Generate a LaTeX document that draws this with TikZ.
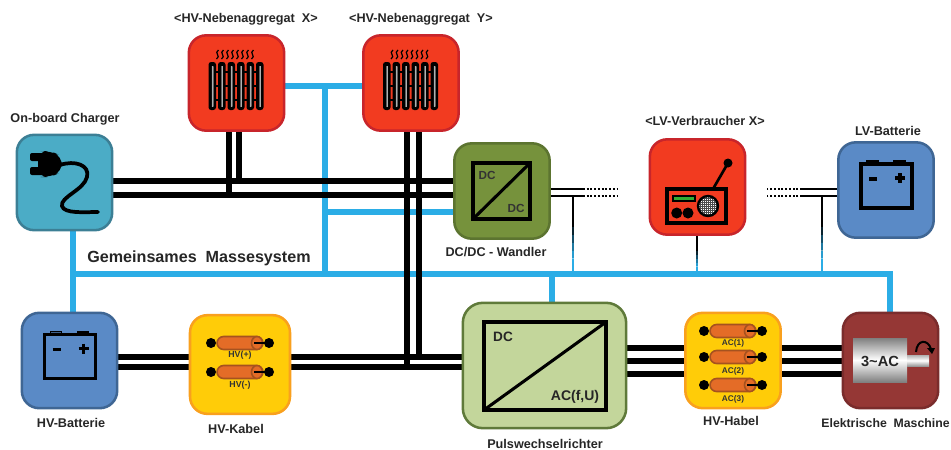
\documentclass[tikz,border=0pt]{standalone}
\usepackage{fontspec}
\setmainfont{Liberation Sans}
\usepackage{xcolor}
\usepackage{tikz}
\usetikzlibrary{positioning, calc, backgrounds}
\definecolor{skyline}{HTML}{2BADE6}
\definecolor{heatred}{HTML}{F23B20}
\definecolor{heatedge}{HTML}{C8252B}
\definecolor{batblue}{HTML}{5A8AC6}
\definecolor{batedge}{HTML}{3F6694}
\definecolor{chargeteal}{HTML}{4BACC6}
\definecolor{chargeedge}{HTML}{3C7F95}
\definecolor{dcgreen}{HTML}{76923C}
\definecolor{dcedge}{HTML}{5C7430}
\definecolor{pwrgreen}{HTML}{C3D69B}
\definecolor{pwredge}{HTML}{5F7A3A}
\definecolor{cableyellow}{HTML}{FFCC08}
\definecolor{cableedge}{HTML}{F9A01E}
\definecolor{motorred}{HTML}{953735}
\definecolor{motoredge}{HTML}{7A2C2C}
\definecolor{coreorange}{HTML}{E46C27}
\definecolor{coreedge}{HTML}{A5521F}
\tikzstyle{unit} = [rectangle, rounded corners=13pt, minimum width=71.5pt, minimum height=71.5pt, line width=1.9pt, inner sep=0pt]
\tikzstyle{caption} = [font=\bfseries\fontsize{9.5}{11}\selectfont, text=black!85, inner sep=0pt]
\tikzstyle{cabletext} = [font=\bfseries\fontsize{6.6}{8}\selectfont, text=black!80, inner sep=0pt]
\tikzstyle{hvwire} = [line width=3.9pt, black]
\tikzstyle{gndwire} = [line width=3.9pt, skyline, line cap=rect]
\tikzstyle{lvwire} = [line width=1.3pt, black]
\tikzstyle{lvdots} = [line width=1pt, black, dash pattern=on 1.4pt off 1.4pt]
\tikzstyle{tapwire} = [line width=1.2pt]
\tikzstyle{iconline} = [line width=2.3pt, black]
\tikzset{
  heater/.pic={
    \foreach \i in {0,...,7} {
      \draw[black, line width=0.9pt] (-18+\i*5,-33) .. controls (-23+\i*5,-30) and (-15+\i*5,-27) .. (-20+\i*5,-24);
    }
    \foreach \ypos in {-11,3,17} { \draw[black, line width=2.1pt] (-26,\ypos) -- (25,\ypos); }
    \foreach \i in {0,...,5} {
      \fill[black, rounded corners=2pt] (-28+\i*9.5,-21) rectangle ++(7.5,48);
      \shade[left color=black, right color=black, middle color=black!15] (-25.6+\i*9.5,-17) rectangle ++(2.7,40);
    }
  },
  battery/.pic={
    \draw[black, line width=1.2pt, fill=batblue!70!black] (-19,-29) rectangle ++(11,3);
    \draw[black, line width=1.2pt, fill=black] (8,-29) rectangle ++(11,3);
    \draw[black, line width=2.5pt] (-25,-26) rectangle (26,18);
    \draw[black, line width=2.4pt] (-17,-11) -- (-9,-11);
    \draw[black, line width=2.4pt] (9,-12) -- (19,-12) (14,-17) -- (14,-7);
  },
  cable/.pic={
    \draw[coreedge, line width=1.2pt, fill=coreorange, rounded corners=5pt] (-23,-6.5) rectangle (23,6.5);
    \draw[coreedge, line width=1.2pt, fill=coreorange] (17,0) ellipse (5.5 and 6.5);
    \draw[black, line width=1.1pt] (14,0) -- (29,0);
    \fill[black] (-29,0) circle (5) (29,0) circle (5);
  }
}
\begin{document}
\begin{tikzpicture}[x=0.75pt, y=-0.75pt]
\useasboundingbox (0,0) rectangle (951,450);

% Units
\node (charger) [unit, fill=chargeteal, draw=chargeedge] at (64.5,182.5) {};
\node (heatX) [unit, fill=heatred, draw=heatedge] at (236.5,83) {};
\node (heatY) [unit, fill=heatred, draw=heatedge] at (411,83) {};
\node (dcdc) [unit, fill=dcgreen, draw=dcedge] at (502,191) {};
\node (radio) [unit, fill=heatred, draw=heatedge] at (697.5,187) {};
\node (lvbat) [unit, fill=batblue, draw=batedge] at (886,190) {};
\node (hvbat) [unit, fill=batblue, draw=batedge] at (69.5,360.5) {};
\node (hvcable) [unit, fill=cableyellow, draw=cableedge, minimum width=75pt, minimum height=74pt] at (240,364.5) {};
\node (pwr) [unit, fill=pwrgreen, draw=pwredge, minimum width=122.5pt, minimum height=94pt, rounded corners=15pt] at (544.5,365.5) {};
\node (accable) [unit, fill=cableyellow, draw=cableedge] at (733,360.5) {};
\node (motor) [unit, fill=motorred, draw=motoredge] at (890.5,360.5) {};

% Captions
\node (capX) [caption] at (246,19) {<HV-Nebenaggregat\ \ X>};
\node (capY) [caption] at (421,19) {<HV-Nebenaggregat\ \ Y>};
\node (capcharger) [caption] at (65,119) {On-board Charger};
\node (capdcdc) [caption] at (496,252) {DC/DC - Wandler};
\node (capradio) [caption] at (705,121) {<LV-Verbraucher X>};
\node (caplvbat) [caption] at (888,131) {LV-Batterie};
\node (capground) [caption, font=\bfseries\fontsize{12.1}{14}\selectfont] at (199,258) {Gemeinsames\ \ Massesystem};
\node (caphvbat) [caption] at (71,423) {HV-Batterie};
\node (caphvcable) [caption] at (236,429) {HV-Kabel};
\node (cappwr) [caption] at (545,444) {Pulswechselrichter};
\node (capaccable) [caption] at (731,421) {HV-Habel};
\node (capmotor) [caption, font=\bfseries\fontsize{9.2}{11}\selectfont] at (885.5,423) {Elektrische\ \ Maschine};

% Icons
\pic at (heatX) {heater};
\pic at (heatY) {heater};
\pic at (hvbat) {battery};
\pic at (lvbat) {battery};
\pic at (240,343) {cable};
\pic at (240,372) {cable};
\foreach \ypos in {331,357,385} { \pic at (733,\ypos) {cable}; }
\node (hvplus) [cabletext] at (240,355) {HV(+)};
\node (hvminus) [cabletext] at (240,385) {HV(-)};
\node (acone) [cabletext, font=\bfseries\fontsize{6.2}{8}\selectfont] at (733,343) {AC(1)};
\node (actwo) [cabletext, font=\bfseries\fontsize{6.2}{8}\selectfont] at (733,371) {AC(2)};
\node (acthree) [cabletext, font=\bfseries\fontsize{6.2}{8}\selectfont] at (733,399) {AC(3)};

% Plug
\fill[black, rounded corners=1.5pt] (30,153) rectangle (44,161) (30,167) rectangle (44,175);
\fill[black, rounded corners=7pt] (38,151) -- (50,151) -- (62,156) -- (62,172) -- (50,177) -- (38,177) -- cycle;
\draw[black, line width=2.8pt, line cap=round] (60,165) .. controls (75,160) and (90,165) .. (87,177) .. controls (84,190) and (60,197) .. (62,206) .. controls (64,214) and (85,212) .. (98,212);

% DC/DC icon
\draw[iconline] (473,163) rectangle (530,219);
\draw[iconline] (473,219) -- (530,163);
\node (dcin) [font=\bfseries\fontsize{8.8}{10}\selectfont, text=black!80, inner sep=0pt] at (487,175) {DC};
\node (dcout) [font=\bfseries\fontsize{8.8}{10}\selectfont, text=black!80, inner sep=0pt] at (516,208) {DC};

% Inverter icon
\draw[iconline] (484,322) rectangle (606,410);
\draw[iconline] (484,410) -- (606,322);
\node (pwrdc) [font=\bfseries\fontsize{10.2}{12}\selectfont, text=black!85, inner sep=0pt] at (503,337) {DC};
\node (pwrac) [font=\bfseries\fontsize{10.5}{12}\selectfont, text=black!85, inner sep=0pt] at (575,397) {AC(f,U)};

% Radio icon
\draw[black, line width=2pt] (713,189) -- (728,163);
\fill[black] (728,163) circle (4.5);
\draw[iconline] (667,189) rectangle (726,223);
\draw[black, line width=0.8pt, fill=green!60!black!80!white] (673,196) rectangle (695,201);
\fill[black] (676.7,213) circle (5.5) (688,213) circle (5.5);
\begin{scope}
\clip (708,206) circle (10);
\fill[white] (698,196) rectangle (718,216);
\foreach \i in {0,...,9} {
  \draw[black!70, line width=0.3pt] (698+\i*2,196) -- (698+\i*2,216) (698,196+\i*2) -- (718,196+\i*2);
}
\end{scope}
\draw[black, line width=1.8pt] (708,206) circle (10);

% Motor icon
\shade[top color=black!50, bottom color=black!50, middle color=white] (853,338) rectangle (907,382);
\shade[top color=black!30, bottom color=black!40, middle color=white] (907,355) rectangle (929,366);
\node (motortext) [font=\bfseries\fontsize{11}{13}\selectfont, text=black!85, inner sep=0pt] at (880,361) {3\textasciitilde AC};
\draw[black, line width=1.5pt] (916,352) .. controls (917,339) and (928,339) .. (931,349);
\fill[black] (927,348) -- (935,348) -- (932,354) -- cycle;

\begin{scope}[on background layer]
% Ground system
\draw[gndwire] (charger.south -| 73,0) -- (hvbat.north -| 73,0);
\draw[gndwire] (73,274) -- (890,274);
\draw[gndwire] (heatX.east |- 0,86) -- (heatY.west |- 0,86);
\draw[gndwire] (325,86) -- (325,274);
\draw[gndwire] (325,212) -- (dcdc.west |- 0,212);
\draw[gndwire] (552,274) -- (pwr.north -| 552,0);
\draw[gndwire] (890,274) -- (motor.north -| 890,0);

% HV wires
\foreach \ypos in {181,195} { \draw[hvwire] (charger.east |- 0,\ypos) -- (dcdc.west |- 0,\ypos); }
\draw[hvwire] (heatX.south -| 229,0) -- (229,197);
\draw[hvwire] (heatX.south -| 239,0) -- (239,183);
\draw[hvwire] (heatY.south -| 407,0) -- (407,369);
\draw[hvwire] (heatY.south -| 419,0) -- (419,359);
\foreach \ypos in {357,367} {
  \draw[hvwire] (hvbat.east |- 0,\ypos) -- (hvcable.west |- 0,\ypos);
  \draw[hvwire] (hvcable.east |- 0,\ypos) -- (pwr.west |- 0,\ypos);
}
\foreach \ypos in {348,361,374} {
  \draw[hvwire] (pwr.east |- 0,\ypos) -- (accable.west |- 0,\ypos);
  \draw[hvwire] (accable.east |- 0,\ypos) -- (motor.west |- 0,\ypos);
}

% LV wires
\foreach \ypos in {189,196} {
  \draw[lvwire] (dcdc.east |- 0,\ypos) -- (583,\ypos);
  \draw[lvdots] (583,\ypos) -- (617,\ypos);
  \draw[lvwire] (lvbat.west |- 0,\ypos) -- (802,\ypos);
  \draw[lvdots] (802,\ypos) -- (767,\ypos);
}
\coordinate (tapA) at (573,196);
\coordinate (tapB) at (697,236);
\coordinate (tapC) at (822,196);
\foreach \tap/\xpos in {tapA/573,tapB/697,tapC/822} {
  \coordinate (gnd) at (\xpos,274);
  \foreach \from/\to/\shadeval in {0/.4/100,.4/.5/80,.5/.6/55,.6/.7/30,.7/.8/10,.8/1/0} {
    \draw[tapwire, black!\shadeval!skyline] ($(\tap)!\from!(gnd)$) -- ($(\tap)!\to!(gnd)$);
  }
}
\end{scope}

\end{tikzpicture}
\end{document}
